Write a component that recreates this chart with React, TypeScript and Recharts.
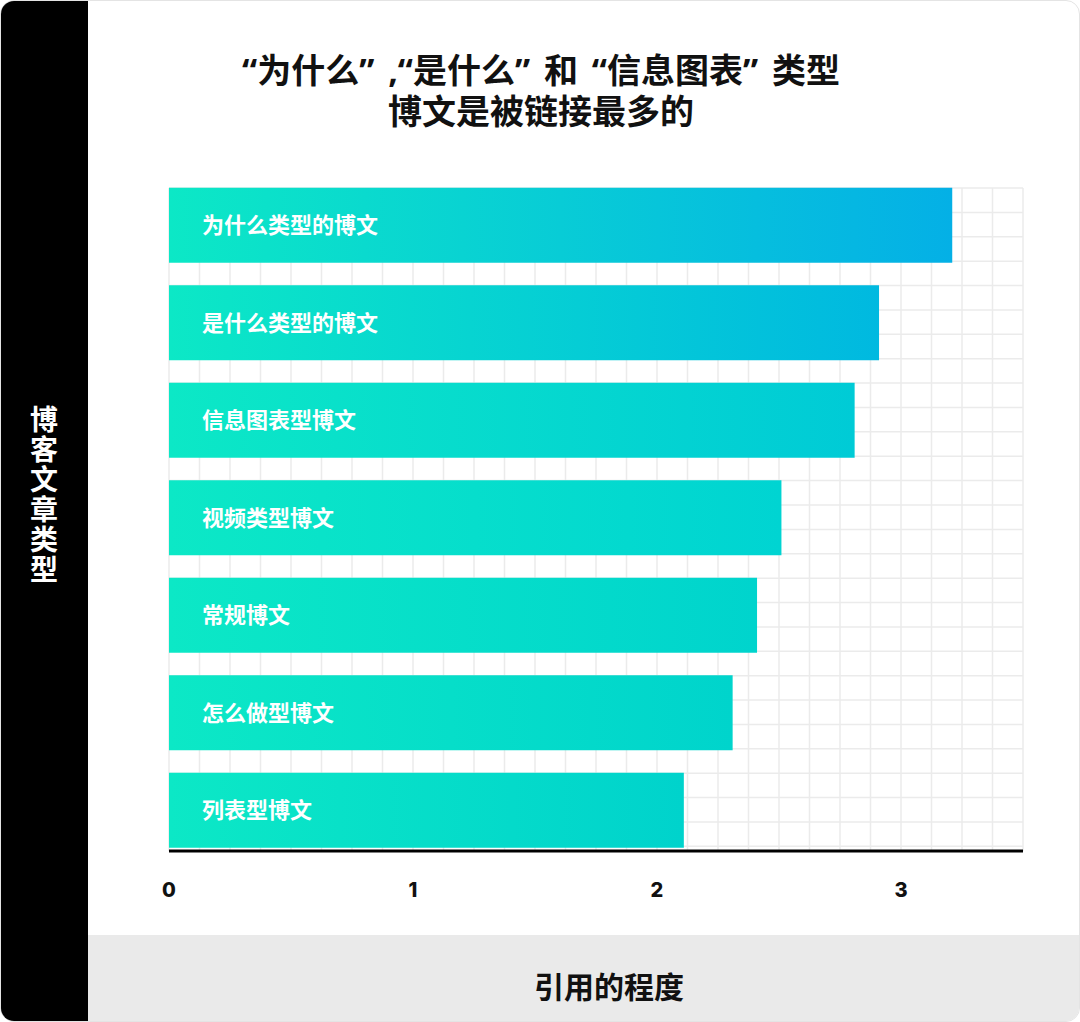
import { BarChart, Bar, XAxis, YAxis, CartesianGrid, Cell, LabelList } from "recharts";

// categories, top to bottom
const CATEGORIES = [
  "为什么类型的博文",
  "是什么类型的博文",
  "信息图表型博文",
  "视频类型博文",
  "常规博文",
  "怎么做型博文",
  "列表型博文",
];

// 引用的程度
const VALUES = [3.21, 2.91, 2.81, 2.51, 2.41, 2.31, 2.11];

const X_DOMAIN: [number, number] = [0, 3.5];
const X_TICKS = [0, 1, 2, 3];

const TITLE_LINES = ["“为什么” ,“是什么” 和 “信息图表” 类型", "博文是被链接最多的"];
const Y_LABEL = "博客文章类型";
const X_LABEL = "引用的程度";

// right-end colour of each bar's gradient
const BAR_END = ["#04b0e6", "#00b9e0", "#00cbd6", "#00d4d2", "#00d4cd", "#00d4cc", "#00d3cc"];
const BAR_START = "#0ce8c6";

const CJK = '"Noto Sans CJK SC", "Noto Sans", sans-serif';

// background grid: 8 columns per unit, 4 rows per bar band
const GRID_X = Array.from({ length: 29 }, (_, i) => i * 0.125);
const GRID_ROWS = 27.19;
const GRID_Y = Array.from({ length: 28 }, (_, i) => i);

const data = CATEGORIES.map((name, i) => ({ name, value: VALUES[i] }));

type GridArgs = {
  xAxis?: { scale?: (v: number) => number };
  offset: { left: number; top: number; width: number; height: number };
};

function gridVertical({ xAxis, offset }: GridArgs) {
  const scale = xAxis?.scale;
  return GRID_X.map((v) =>
    typeof scale === "function"
      ? scale(v)
      : offset.left + ((v - X_DOMAIN[0]) / (X_DOMAIN[1] - X_DOMAIN[0])) * offset.width,
  );
}

function gridHorizontal({ offset }: GridArgs) {
  return GRID_Y.map((k) => offset.top + (k / GRID_ROWS) * offset.height);
}

function XTick({ x, y, payload }: { x?: number; y?: number; payload?: { value: number } }) {
  return (
    <text
      x={x}
      y={(y ?? 0) + 39}
      textAnchor="middle"
      dominantBaseline="central"
      fill="#111"
      fontSize={20}
      fontWeight={800}
      fontFamily='Inter, Lato, "Noto Sans", sans-serif'
    >
      {payload?.value}
    </text>
  );
}

export default function App() {
  return (
    <div
      style={{
        position: "absolute",
        left: 0,
        top: 0,
        width: 1080,
        height: 1022,
        boxSizing: "border-box",
        background: "#fff",
        border: "1px solid #e4e4e4",
        borderRadius: 14,
        overflow: "hidden",
        fontFamily: CJK,
      }}
    >
      <div style={{ position: "absolute", left: 0, top: 0, width: 87, height: 1022, background: "#000" }}>
        <div
          style={{
            position: "absolute",
            left: 43,
            top: 404,
            transform: "translateX(-50%)",
            writingMode: "vertical-rl",
            textOrientation: "upright",
            color: "#fff",
            fontSize: 28,
            fontWeight: 700,
            letterSpacing: 2,
            lineHeight: "30px",
          }}
        >
          {Y_LABEL}
        </div>
      </div>

      <div
        style={{
          position: "absolute",
          left: 87,
          top: 934,
          width: 993,
          height: 88,
          background: "#eaeaea",
        }}
      >
        <div
          style={{
            position: "absolute",
            left: 521,
            top: 50,
            transform: "translate(-50%, -50%)",
            fontSize: 30,
            fontWeight: 700,
            color: "#111",
            whiteSpace: "nowrap",
          }}
        >
          {X_LABEL}
        </div>
      </div>

      <div
        style={{
          position: "absolute",
          left: 0,
          top: 49,
          width: 1080,
          textAlign: "center",
          fontFamily: '"Noto Sans", "Noto Sans CJK SC", sans-serif',
          fontSize: 34,
          fontWeight: 700,
          lineHeight: "41px",
          wordSpacing: 5,
          color: "#111",
          whiteSpace: "pre",
        }}
      >
        {TITLE_LINES.map((line) => (
          <div key={line}>{line}</div>
        ))}
      </div>

      <div style={{ position: "absolute", left: 0, top: 0 }}>
        <BarChart
          width={1080}
          height={934}
          data={data}
          layout="vertical"
          margin={{ top: 187, right: 58, bottom: 23, left: 168 }}
        >
          <defs>
            {BAR_END.map((c, i) => (
              <linearGradient key={i} id={`bar-grad-${i}`} x1="0" y1="0" x2="1" y2="0">
                <stop offset="0%" stopColor={BAR_START} />
                <stop offset="100%" stopColor={c} />
              </linearGradient>
            ))}
          </defs>
          <CartesianGrid
            stroke="#ebebeb"
            strokeWidth={1.5}
            verticalCoordinatesGenerator={gridVertical}
            horizontalCoordinatesGenerator={gridHorizontal}
          />
          <XAxis
            type="number"
            domain={X_DOMAIN}
            ticks={X_TICKS}
            allowDataOverflow
            height={61}
            tickLine={false}
            tickSize={0}
            tickMargin={0}
            axisLine={{ stroke: "#000", strokeWidth: 3 }}
            tick={<XTick />}
          />
          <YAxis
            type="category"
            dataKey="name"
            width={0}
            tick={false}
            tickLine={false}
            axisLine={{ stroke: "#000", strokeWidth: 3 }}
            padding={{ top: -11.33, bottom: -8.33 }}
          />
          <Bar dataKey="value" barSize={75} isAnimationActive={false}>
            {data.map((d, i) => (
              <Cell key={d.name} fill={`url(#bar-grad-${i})`} />
            ))}
            <LabelList
              dataKey="name"
              position="insideLeft"
              offset={33}
              fill="#fff"
              fontSize={22}
              fontWeight={700}
              fontFamily={CJK}
            />
          </Bar>
        </BarChart>
      </div>
    </div>
  );
}
